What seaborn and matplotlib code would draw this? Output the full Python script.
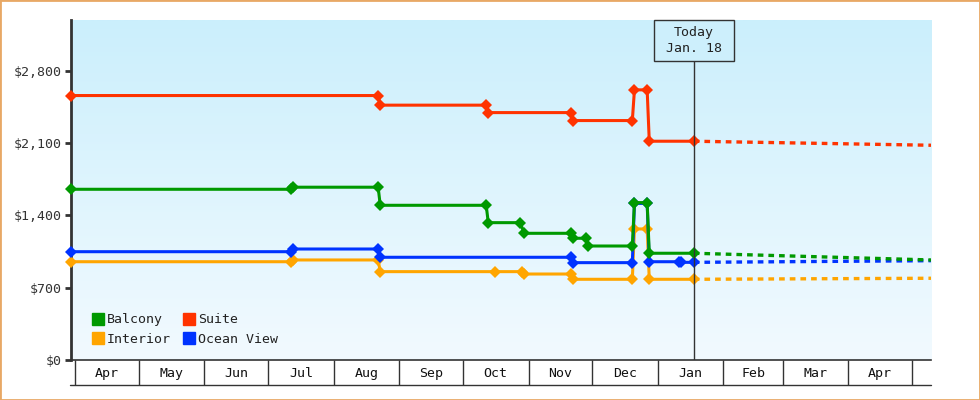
import matplotlib
matplotlib.use('Agg')
import matplotlib.pyplot as plt
import matplotlib.dates as mdates
import matplotlib.transforms as mtransforms
from matplotlib.colors import LinearSegmentedColormap
from matplotlib.lines import Line2D
from matplotlib.patches import Rectangle
import seaborn as sns
import pandas as pd
import numpy as np

# Price history per cabin type
suite_dates = ['2022-03-30', '2022-08-22', '2022-08-23', '2022-10-12', '2022-10-13',
               '2022-11-21', '2022-11-22', '2022-12-20', '2022-12-21', '2022-12-27',
               '2022-12-28', '2023-01-18']
suite_prices = [2559, 2559, 2466, 2466, 2394, 2394, 2317, 2317, 2614, 2614, 2117, 2117]

balcony_dates = ['2022-03-30', '2022-07-12', '2022-07-13', '2022-08-22', '2022-08-23',
                 '2022-10-12', '2022-10-13', '2022-10-28', '2022-10-30', '2022-11-21',
                 '2022-11-22', '2022-11-28', '2022-11-29', '2022-12-20', '2022-12-21',
                 '2022-12-27', '2022-12-28', '2023-01-18']
balcony_prices = [1652, 1652, 1672, 1672, 1497, 1497, 1329, 1329, 1226, 1226,
                  1178, 1178, 1103, 1103, 1523, 1523, 1033, 1033]

ocean_dates = ['2022-03-30', '2022-07-12', '2022-07-13', '2022-08-22', '2022-08-23',
               '2022-11-21', '2022-11-22', '2022-12-20', '2022-12-21', '2022-12-27',
               '2022-12-28', '2023-01-11', '2023-01-12', '2023-01-18']
ocean_prices = [1048, 1048, 1074, 1074, 994, 994, 942, 942, 1515, 1515, 951, 951, 945, 945]

interior_dates = ['2022-03-30', '2022-07-12', '2022-07-13', '2022-08-22', '2022-08-23',
                  '2022-10-16', '2022-10-29', '2022-10-30', '2022-11-21', '2022-11-22',
                  '2022-12-20', '2022-12-21', '2022-12-27', '2022-12-28', '2023-01-18']
interior_prices = [951, 951, 968, 968, 855, 855, 855, 832, 832, 781, 781, 1268, 1268, 781, 781]

# Forecast: from today to the end of the range
today = '2023-01-18'
forecast_end = '2023-05-10'
cabins = ['Balcony', 'Suite', 'Interior', 'Ocean View']
forecast_start_prices = [1033, 2117, 781, 945]
forecast_end_prices = [968, 2078, 791, 961]

y_ticks = [0, 700, 1400, 2100, 2800]
month_labels = ['Apr', 'May', 'Jun', 'Jul', 'Aug', 'Sep', 'Oct', 'Nov', 'Dec',
                'Jan', 'Feb', 'Mar', 'Apr']

colors = {'Balcony': '#009900', 'Suite': '#ff3300',
          'Interior': '#ffa500', 'Ocean View': '#0033ff'}
draw_order = ['Interior', 'Ocean View', 'Balcony', 'Suite']

sns.set_style('white')
plt.rcParams['font.family'] = ['DejaVu Sans Mono']
plt.rcParams['font.size'] = 9.5

# Data frames
history = pd.concat([
    pd.DataFrame({'cabin': 'Suite', 'date': suite_dates, 'price': suite_prices}),
    pd.DataFrame({'cabin': 'Balcony', 'date': balcony_dates, 'price': balcony_prices}),
    pd.DataFrame({'cabin': 'Ocean View', 'date': ocean_dates, 'price': ocean_prices}),
    pd.DataFrame({'cabin': 'Interior', 'date': interior_dates, 'price': interior_prices}),
])
history['date'] = pd.to_datetime(history['date'])

forecast = pd.concat([
    pd.DataFrame({'cabin': cabins, 'date': today, 'price': forecast_start_prices}),
    pd.DataFrame({'cabin': cabins, 'date': forecast_end, 'price': forecast_end_prices}),
])
forecast['date'] = pd.to_datetime(forecast['date'])

fig = plt.figure(figsize=(9.8, 4), dpi=100)
ax = fig.add_axes([71 / 980, 40 / 400, 860 / 980, 340 / 400])

# Gradient background
grad = np.linspace(0, 1, 256).reshape(-1, 1)
bg_cmap = LinearSegmentedColormap.from_list('bg', ['#f2faff', '#cbeffc'])
ax.imshow(grad, cmap=bg_cmap, aspect='auto', extent=[0, 1, 0, 1],
          transform=ax.transAxes, origin='lower', zorder=0)

sns.lineplot(data=forecast, x='date', y='price', hue='cabin', hue_order=draw_order,
             palette=colors, estimator=None, sort=False, linewidth=2.4,
             linestyle=(0, (1.7, 1.5)), dash_capstyle='butt', legend=False, ax=ax, zorder=2)
sns.lineplot(data=history, x='date', y='price', hue='cabin', hue_order=draw_order,
             palette=colors, estimator=None, sort=False, linewidth=2.2,
             marker='D', markersize=6.2, markeredgewidth=0, legend=False, ax=ax,
             zorder=3, clip_on=False)

x0 = pd.Timestamp('2022-03-30')
x1 = pd.Timestamp(forecast_end)
ax.set_xlim(x0, x1)
ax.set_ylim(0, 3290)

# Y axis
ax.set_yticks(y_ticks)
ax.set_yticklabels([f'${v:,}' for v in y_ticks])
ax.tick_params(axis='y', length=4.5, width=2, color='#333333', pad=2,
               labelcolor='#333333', labelsize=9.5, left=True)

# X axis: month boxes
month_starts = pd.date_range('2022-04-01', '2023-05-01', freq='MS')
ax.set_xticks(mdates.date2num(month_starts))
ax.set_xticklabels([])
mids = [mdates.date2num(d) + (mdates.date2num(d + pd.offsets.MonthBegin(1)) - mdates.date2num(d)) / 2
        for d in month_starts[:-1]]
ax.set_xticks(mids, minor=True)
ax.set_xticklabels(month_labels, minor=True)
ax.tick_params(axis='x', which='major', length=18, width=1, color='#333333',
               direction='out', bottom=True)
ax.tick_params(axis='x', which='minor', length=0, pad=5, labelsize=9.5,
               labelcolor='#111111', bottom=True)
ax.set_xlabel('')
ax.set_ylabel('')

for side in ['top', 'right']:
    ax.spines[side].set_visible(False)
ax.spines['left'].set_color('#333333')
ax.spines['left'].set_linewidth(2)
ax.spines['left'].set_zorder(2.5)
ax.spines['bottom'].set_color('#333333')
ax.spines['bottom'].set_linewidth(1.2)

band = 25 / 340
ax.plot([-1 / 860, 1], [-band, -band], transform=ax.transAxes, color='#333333',
        lw=1, clip_on=False)

# Today marker
trans = mtransforms.blended_transform_factory(ax.transData, ax.transAxes)
t = mdates.date2num(pd.Timestamp(today))
box_bottom = (360 - 60.7) / 340
ax.plot([t, t], [0, box_bottom], transform=trans, color='#333333', lw=1, zorder=5)
half_w = 40 / 2.1205
ax.add_patch(Rectangle((t - half_w, box_bottom), 2 * half_w, 1 - box_bottom,
                       transform=trans, facecolor='#cdeffc', edgecolor='#333333',
                       lw=1, zorder=5, clip_on=False))
ax.text(t, (1 + box_bottom) / 2, 'Today\nJan. 18', transform=trans, ha='center',
        va='center', fontsize=9.5, color='#222222', linespacing=1.35, zorder=6)

# Legend
handles = [Line2D([], [], marker='s', linestyle='', markersize=8, color=colors[c])
           for c in ['Balcony', 'Interior', 'Suite', 'Ocean View']]
ax.legend(handles, ['Balcony', 'Interior', 'Suite', 'Ocean View'], ncol=2,
          loc='lower left', bbox_to_anchor=(0.018, 0.022), frameon=False,
          handlelength=0.8, handletextpad=0.25, columnspacing=1.0,
          labelspacing=0.5, borderpad=0, fontsize=9.5, labelcolor='#222222')

fig.add_artist(Rectangle((0, 0), 1, 1, transform=fig.transFigure, fill=False,
                         edgecolor='#e8a865', lw=2))

fig.savefig('out.png', dpi=100)
